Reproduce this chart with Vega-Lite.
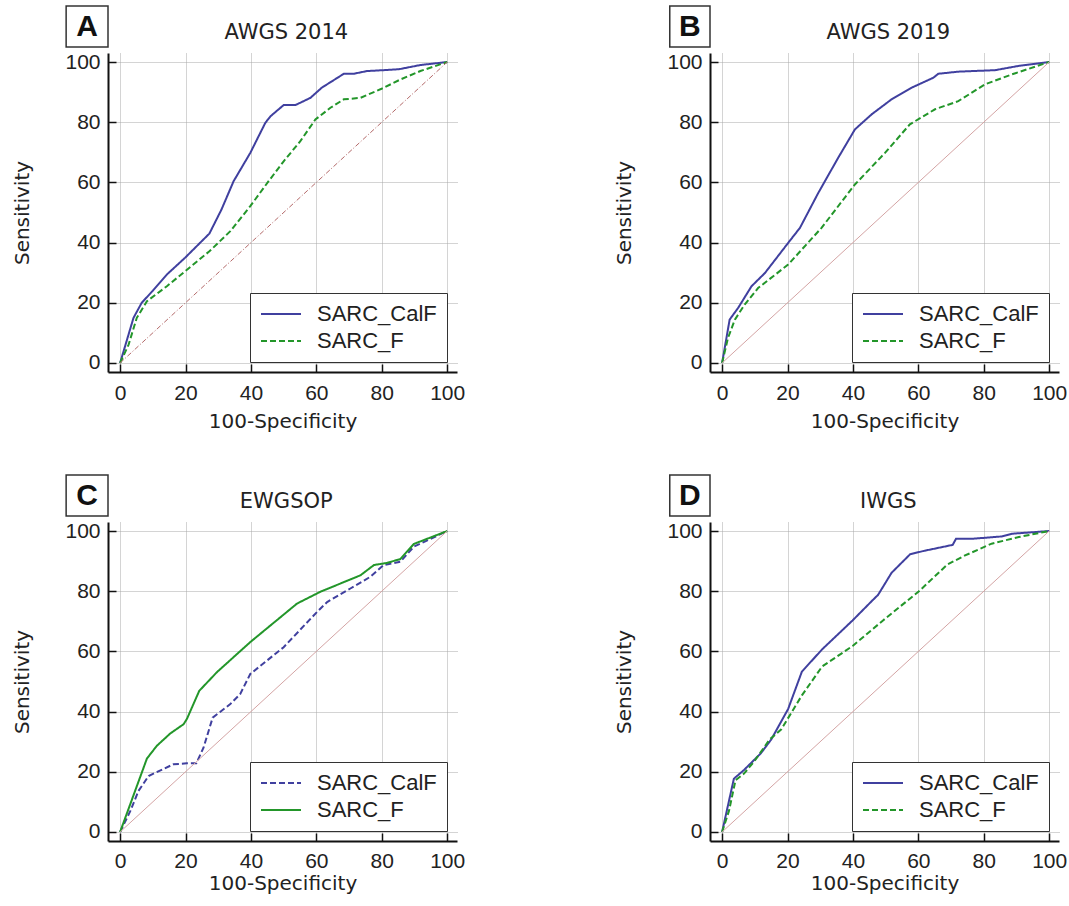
{
"$schema": "https://vega.github.io/schema/vega-lite/v6.json",
"padding": {"left": 12, "top": 5, "right": 3, "bottom": 2},
"datasets": {"roc": [
{"p":"A","s":"SARC_CalF","x":0,"y":0},{"p":"A","s":"SARC_CalF","x":4.1,"y":15},{"p":"A","s":"SARC_CalF","x":6.6,"y":20},{"p":"A","s":"SARC_CalF","x":10,"y":24},{"p":"A","s":"SARC_CalF","x":14.3,"y":29.4},{"p":"A","s":"SARC_CalF","x":19.9,"y":35},{"p":"A","s":"SARC_CalF","x":27.3,"y":43},{"p":"A","s":"SARC_CalF","x":31,"y":51},{"p":"A","s":"SARC_CalF","x":34.7,"y":60.4},{"p":"A","s":"SARC_CalF","x":39.8,"y":69.8},{"p":"A","s":"SARC_CalF","x":44.4,"y":79.8},{"p":"A","s":"SARC_CalF","x":46,"y":82},{"p":"A","s":"SARC_CalF","x":50,"y":85.7},{"p":"A","s":"SARC_CalF","x":53.6,"y":85.7},{"p":"A","s":"SARC_CalF","x":58.2,"y":88.1},{"p":"A","s":"SARC_CalF","x":61.7,"y":91.5},{"p":"A","s":"SARC_CalF","x":68.4,"y":96.1},{"p":"A","s":"SARC_CalF","x":71.4,"y":96.1},{"p":"A","s":"SARC_CalF","x":75.5,"y":97},{"p":"A","s":"SARC_CalF","x":80.6,"y":97.3},{"p":"A","s":"SARC_CalF","x":85.2,"y":97.6},{"p":"A","s":"SARC_CalF","x":91.8,"y":99},{"p":"A","s":"SARC_CalF","x":100,"y":100},
{"p":"A","s":"SARC_F","x":0,"y":0},{"p":"A","s":"SARC_F","x":2.6,"y":6.1},{"p":"A","s":"SARC_F","x":5.1,"y":15},{"p":"A","s":"SARC_F","x":8.2,"y":20.5},{"p":"A","s":"SARC_F","x":14.3,"y":25.5},{"p":"A","s":"SARC_F","x":19.9,"y":30.5},{"p":"A","s":"SARC_F","x":27.3,"y":37.1},{"p":"A","s":"SARC_F","x":33.7,"y":43.8},{"p":"A","s":"SARC_F","x":39.8,"y":52.1},{"p":"A","s":"SARC_F","x":45.4,"y":60.4},{"p":"A","s":"SARC_F","x":50,"y":67},{"p":"A","s":"SARC_F","x":55.1,"y":73.7},{"p":"A","s":"SARC_F","x":59.7,"y":80.9},{"p":"A","s":"SARC_F","x":64.3,"y":84.8},{"p":"A","s":"SARC_F","x":68.4,"y":87.6},{"p":"A","s":"SARC_F","x":73.5,"y":88.1},{"p":"A","s":"SARC_F","x":80.1,"y":91.2},{"p":"A","s":"SARC_F","x":85.7,"y":94.2},{"p":"A","s":"SARC_F","x":91.8,"y":97},{"p":"A","s":"SARC_F","x":100,"y":100},
{"p":"B","s":"SARC_CalF","x":0,"y":0},{"p":"B","s":"SARC_CalF","x":2.3,"y":14.4},{"p":"B","s":"SARC_CalF","x":4.9,"y":18.3},{"p":"B","s":"SARC_CalF","x":9,"y":25.5},{"p":"B","s":"SARC_CalF","x":13.1,"y":29.9},{"p":"B","s":"SARC_CalF","x":20.2,"y":39.9},{"p":"B","s":"SARC_CalF","x":23.8,"y":44.9},{"p":"B","s":"SARC_CalF","x":29.4,"y":56.5},{"p":"B","s":"SARC_CalF","x":35.5,"y":68.2},{"p":"B","s":"SARC_CalF","x":40.6,"y":77.6},{"p":"B","s":"SARC_CalF","x":45.7,"y":82.6},{"p":"B","s":"SARC_CalF","x":51.8,"y":87.6},{"p":"B","s":"SARC_CalF","x":58,"y":91.5},{"p":"B","s":"SARC_CalF","x":64.6,"y":94.8},{"p":"B","s":"SARC_CalF","x":66.1,"y":96.1},{"p":"B","s":"SARC_CalF","x":72.2,"y":96.8},{"p":"B","s":"SARC_CalF","x":83.5,"y":97.3},{"p":"B","s":"SARC_CalF","x":90.6,"y":98.7},{"p":"B","s":"SARC_CalF","x":100,"y":100},
{"p":"B","s":"SARC_F","x":0,"y":0},{"p":"B","s":"SARC_F","x":1.8,"y":8.3},{"p":"B","s":"SARC_F","x":3.9,"y":14.4},{"p":"B","s":"SARC_F","x":6.9,"y":19.4},{"p":"B","s":"SARC_F","x":11,"y":24.9},{"p":"B","s":"SARC_F","x":20.2,"y":32.7},{"p":"B","s":"SARC_F","x":30.4,"y":44.9},{"p":"B","s":"SARC_F","x":40.6,"y":59.3},{"p":"B","s":"SARC_F","x":49.8,"y":69.8},{"p":"B","s":"SARC_F","x":57.4,"y":79.3},{"p":"B","s":"SARC_F","x":65.1,"y":84.3},{"p":"B","s":"SARC_F","x":72.2,"y":87},{"p":"B","s":"SARC_F","x":80.4,"y":92.6},{"p":"B","s":"SARC_F","x":88.6,"y":95.9},{"p":"B","s":"SARC_F","x":100,"y":100},
{"p":"C","s":"SARC_CalF","x":0,"y":0},{"p":"C","s":"SARC_CalF","x":3.1,"y":6.9},{"p":"C","s":"SARC_CalF","x":5.6,"y":13.6},{"p":"C","s":"SARC_CalF","x":8.7,"y":18.6},{"p":"C","s":"SARC_CalF","x":16.3,"y":22.5},{"p":"C","s":"SARC_CalF","x":20.4,"y":22.8},{"p":"C","s":"SARC_CalF","x":23.3,"y":22.8},{"p":"C","s":"SARC_CalF","x":25.5,"y":28},{"p":"C","s":"SARC_CalF","x":28.3,"y":38},{"p":"C","s":"SARC_CalF","x":33.7,"y":42.5},{"p":"C","s":"SARC_CalF","x":36.7,"y":45.8},{"p":"C","s":"SARC_CalF","x":39.8,"y":52.5},{"p":"C","s":"SARC_CalF","x":50,"y":61.4},{"p":"C","s":"SARC_CalF","x":60.2,"y":73.1},{"p":"C","s":"SARC_CalF","x":63.3,"y":76.4},{"p":"C","s":"SARC_CalF","x":70.4,"y":80.9},{"p":"C","s":"SARC_CalF","x":76.5,"y":84.8},{"p":"C","s":"SARC_CalF","x":80.6,"y":88.7},{"p":"C","s":"SARC_CalF","x":85.7,"y":89.8},{"p":"C","s":"SARC_CalF","x":89.8,"y":94.8},{"p":"C","s":"SARC_CalF","x":100,"y":100},
{"p":"C","s":"SARC_F","x":0,"y":0},{"p":"C","s":"SARC_F","x":8.2,"y":24.4},{"p":"C","s":"SARC_F","x":11.2,"y":28.6},{"p":"C","s":"SARC_F","x":15.3,"y":32.7},{"p":"C","s":"SARC_F","x":19.4,"y":35.8},{"p":"C","s":"SARC_F","x":20.4,"y":37.5},{"p":"C","s":"SARC_F","x":24.2,"y":46.9},{"p":"C","s":"SARC_F","x":29.6,"y":53.1},{"p":"C","s":"SARC_F","x":39.8,"y":63.1},{"p":"C","s":"SARC_F","x":54.1,"y":75.9},{"p":"C","s":"SARC_F","x":61.2,"y":79.8},{"p":"C","s":"SARC_F","x":73.5,"y":85.3},{"p":"C","s":"SARC_F","x":77.6,"y":88.7},{"p":"C","s":"SARC_F","x":81.6,"y":89.4},{"p":"C","s":"SARC_F","x":85.7,"y":90.7},{"p":"C","s":"SARC_F","x":89.8,"y":95.7},{"p":"C","s":"SARC_F","x":100,"y":100},
{"p":"D","s":"SARC_CalF","x":0,"y":0},{"p":"D","s":"SARC_CalF","x":3.6,"y":17.7},{"p":"D","s":"SARC_CalF","x":6.7,"y":20.6},{"p":"D","s":"SARC_CalF","x":11.9,"y":26.2},{"p":"D","s":"SARC_CalF","x":15,"y":30.7},{"p":"D","s":"SARC_CalF","x":20.2,"y":40.9},{"p":"D","s":"SARC_CalF","x":24.4,"y":53.3},{"p":"D","s":"SARC_CalF","x":30.6,"y":60.7},{"p":"D","s":"SARC_CalF","x":39.9,"y":70.3},{"p":"D","s":"SARC_CalF","x":46.1,"y":77.1},{"p":"D","s":"SARC_CalF","x":47.7,"y":78.8},{"p":"D","s":"SARC_CalF","x":51.8,"y":86.1},{"p":"D","s":"SARC_CalF","x":57.5,"y":92.3},{"p":"D","s":"SARC_CalF","x":61.7,"y":93.4},{"p":"D","s":"SARC_CalF","x":70.5,"y":95.4},{"p":"D","s":"SARC_CalF","x":71.5,"y":97.4},{"p":"D","s":"SARC_CalF","x":76.2,"y":97.4},{"p":"D","s":"SARC_CalF","x":85.5,"y":98.2},{"p":"D","s":"SARC_CalF","x":88.6,"y":99.1},{"p":"D","s":"SARC_CalF","x":100,"y":100},
{"p":"D","s":"SARC_F","x":0,"y":0},{"p":"D","s":"SARC_F","x":2.1,"y":7},{"p":"D","s":"SARC_F","x":4.1,"y":17.2},{"p":"D","s":"SARC_F","x":6.7,"y":19.4},{"p":"D","s":"SARC_F","x":9.8,"y":23.4},{"p":"D","s":"SARC_F","x":14.5,"y":30.7},{"p":"D","s":"SARC_F","x":18.1,"y":34.1},{"p":"D","s":"SARC_F","x":24.4,"y":45.4},{"p":"D","s":"SARC_F","x":30.6,"y":55},{"p":"D","s":"SARC_F","x":39.9,"y":61.8},{"p":"D","s":"SARC_F","x":49.2,"y":70.3},{"p":"D","s":"SARC_F","x":60.1,"y":79.9},{"p":"D","s":"SARC_F","x":68.9,"y":88.9},{"p":"D","s":"SARC_F","x":74.1,"y":91.8},{"p":"D","s":"SARC_F","x":82.4,"y":95.8},{"p":"D","s":"SARC_F","x":90.7,"y":98},{"p":"D","s":"SARC_F","x":100,"y":100}
]},
"columns": 2,
"spacing": {"row": 43, "column": 149},
"resolve": {"scale": {"color": "independent", "strokeDash": "independent"}, "legend": {"color": "independent", "strokeDash": "independent"}},
"concat": [
{"width": 349, "height": 319,
 "layer": [
  {"data": {"name": "roc"}, "transform": [{"filter": "datum.p === 'A'"}], "mark": {"type": "line", "strokeWidth": 2},
   "encoding": {
    "x": {"field": "x", "type": "quantitative", "scale": {"domain": [-3.7, 103]}, "axis": {"title": "100-Specificity", "grid": true, "values": [0,5,10,15,20,25,30,35,40,45,50,55,60,65,70,75,80,85,90,95,100], "labelExpr": "datum.value % 20 === 0 ? datum.label : ''", "tickSize": {"condition": {"test": "datum.value % 20 === 0", "value": -8}, "value": -4}, "gridOpacity": {"condition": {"test": "datum.value % 20 === 0", "value": 1}, "value": 0}, "labelPadding": 18, "titlePadding": 8}},
    "y": {"field": "y", "type": "quantitative", "scale": {"domain": [-3, 103]}, "axis": {"title": "Sensitivity", "grid": true, "values": [0,5,10,15,20,25,30,35,40,45,50,55,60,65,70,75,80,85,90,95,100], "labelExpr": "datum.value % 20 === 0 ? datum.label : ''", "tickSize": {"condition": {"test": "datum.value % 20 === 0", "value": -8}, "value": -4}, "gridOpacity": {"condition": {"test": "datum.value % 20 === 0", "value": 1}, "value": 0}, "labelPadding": 16, "titlePadding": 32}},
    "color": {"field": "s", "type": "nominal", "scale": {"domain": ["SARC_CalF", "SARC_F"], "range": ["#40409f", "#23962a"]}, "legend": {"title": null}},
    "strokeDash": {"field": "s", "type": "nominal", "scale": {"domain": ["SARC_CalF", "SARC_F"], "range": [[1, 0], [6, 3]]}, "legend": {"title": null}}
   }},
  {"data": {"values": [{}]}, "mark": {"type": "rule", "color": "#b46a6a", "strokeWidth": 1, "strokeDash": [5, 2, 1, 2]},
   "encoding": {"x": {"datum": 0, "type": "quantitative", "scale": {"domain": [-3.7, 103]}}, "y": {"datum": 0, "type": "quantitative", "scale": {"domain": [-3, 103]}}, "x2": {"datum": 100}, "y2": {"datum": 100}}},
  {"data": {"values": [{}]}, "mark": {"type": "rect", "fill": "white", "stroke": "#333", "strokeWidth": 1.5},
   "encoding": {"x": {"datum": -16.5, "type": "quantitative", "scale": {"domain": [-3.7, 103]}}, "x2": {"datum": -3.7}, "y": {"datum": 105, "type": "quantitative", "scale": {"domain": [-3, 103]}}, "y2": {"datum": 118.6}}},
  {"data": {"values": [{}]}, "mark": {"type": "text", "text": "A", "fontSize": 30, "fontWeight": "bold", "font": "Liberation Sans", "color": "#111", "baseline": "middle", "align": "center"},
   "encoding": {"x": {"datum": -10.1, "type": "quantitative", "scale": {"domain": [-3.7, 103]}}, "y": {"datum": 111.8, "type": "quantitative", "scale": {"domain": [-3, 103]}}}},
  {"data": {"values": [{}]}, "mark": {"type": "text", "text": "AWGS 2014", "fontSize": 21, "font": "DejaVu Sans", "color": "#222", "baseline": "middle", "align": "center"},
   "encoding": {"x": {"datum": 50.8, "type": "quantitative", "scale": {"domain": [-3.7, 103]}}, "y": {"datum": 109.6, "type": "quantitative", "scale": {"domain": [-3, 103]}}}}
 ]},
{"width": 349, "height": 319,
 "layer": [
  {"data": {"name": "roc"}, "transform": [{"filter": "datum.p === 'B'"}], "mark": {"type": "line", "strokeWidth": 2},
   "encoding": {
    "x": {"field": "x", "type": "quantitative", "scale": {"domain": [-3.7, 103]}, "axis": {"title": "100-Specificity", "grid": true, "values": [0,5,10,15,20,25,30,35,40,45,50,55,60,65,70,75,80,85,90,95,100], "labelExpr": "datum.value % 20 === 0 ? datum.label : ''", "tickSize": {"condition": {"test": "datum.value % 20 === 0", "value": -8}, "value": -4}, "gridOpacity": {"condition": {"test": "datum.value % 20 === 0", "value": 1}, "value": 0}, "labelPadding": 18, "titlePadding": 8}},
    "y": {"field": "y", "type": "quantitative", "scale": {"domain": [-3, 103]}, "axis": {"title": "Sensitivity", "grid": true, "values": [0,5,10,15,20,25,30,35,40,45,50,55,60,65,70,75,80,85,90,95,100], "labelExpr": "datum.value % 20 === 0 ? datum.label : ''", "tickSize": {"condition": {"test": "datum.value % 20 === 0", "value": -8}, "value": -4}, "gridOpacity": {"condition": {"test": "datum.value % 20 === 0", "value": 1}, "value": 0}, "labelPadding": 16, "titlePadding": 32}},
    "color": {"field": "s", "type": "nominal", "scale": {"domain": ["SARC_CalF", "SARC_F"], "range": ["#40409f", "#23962a"]}, "legend": {"title": null}},
    "strokeDash": {"field": "s", "type": "nominal", "scale": {"domain": ["SARC_CalF", "SARC_F"], "range": [[1, 0], [6, 3]]}, "legend": {"title": null}}
   }},
  {"data": {"values": [{}]}, "mark": {"type": "rule", "color": "#d4a4a4", "strokeWidth": 1},
   "encoding": {"x": {"datum": 0, "type": "quantitative", "scale": {"domain": [-3.7, 103]}}, "y": {"datum": 0, "type": "quantitative", "scale": {"domain": [-3, 103]}}, "x2": {"datum": 100}, "y2": {"datum": 100}}},
  {"data": {"values": [{}]}, "mark": {"type": "rect", "fill": "white", "stroke": "#333", "strokeWidth": 1.5},
   "encoding": {"x": {"datum": -16.0, "type": "quantitative", "scale": {"domain": [-3.7, 103]}}, "x2": {"datum": -3.7}, "y": {"datum": 105, "type": "quantitative", "scale": {"domain": [-3, 103]}}, "y2": {"datum": 118.6}}},
  {"data": {"values": [{}]}, "mark": {"type": "text", "text": "B", "fontSize": 30, "fontWeight": "bold", "font": "Liberation Sans", "color": "#111", "baseline": "middle", "align": "center"},
   "encoding": {"x": {"datum": -9.85, "type": "quantitative", "scale": {"domain": [-3.7, 103]}}, "y": {"datum": 111.8, "type": "quantitative", "scale": {"domain": [-3, 103]}}}},
  {"data": {"values": [{}]}, "mark": {"type": "text", "text": "AWGS 2019", "fontSize": 21, "font": "DejaVu Sans", "color": "#222", "baseline": "middle", "align": "center"},
   "encoding": {"x": {"datum": 50.8, "type": "quantitative", "scale": {"domain": [-3.7, 103]}}, "y": {"datum": 109.6, "type": "quantitative", "scale": {"domain": [-3, 103]}}}}
 ]},
{"width": 349, "height": 319,
 "layer": [
  {"data": {"name": "roc"}, "transform": [{"filter": "datum.p === 'C'"}], "mark": {"type": "line", "strokeWidth": 2},
   "encoding": {
    "x": {"field": "x", "type": "quantitative", "scale": {"domain": [-3.7, 103]}, "axis": {"title": "100-Specificity", "grid": true, "values": [0,5,10,15,20,25,30,35,40,45,50,55,60,65,70,75,80,85,90,95,100], "labelExpr": "datum.value % 20 === 0 ? datum.label : ''", "tickSize": {"condition": {"test": "datum.value % 20 === 0", "value": -8}, "value": -4}, "gridOpacity": {"condition": {"test": "datum.value % 20 === 0", "value": 1}, "value": 0}, "labelPadding": 17, "titlePadding": 2}},
    "y": {"field": "y", "type": "quantitative", "scale": {"domain": [-3, 103]}, "axis": {"title": "Sensitivity", "grid": true, "values": [0,5,10,15,20,25,30,35,40,45,50,55,60,65,70,75,80,85,90,95,100], "labelExpr": "datum.value % 20 === 0 ? datum.label : ''", "tickSize": {"condition": {"test": "datum.value % 20 === 0", "value": -8}, "value": -4}, "gridOpacity": {"condition": {"test": "datum.value % 20 === 0", "value": 1}, "value": 0}, "labelPadding": 16, "titlePadding": 32}},
    "color": {"field": "s", "type": "nominal", "scale": {"domain": ["SARC_CalF", "SARC_F"], "range": ["#40409f", "#23962a"]}, "legend": {"title": null}},
    "strokeDash": {"field": "s", "type": "nominal", "scale": {"domain": ["SARC_CalF", "SARC_F"], "range": [[6, 3], [1, 0]]}, "legend": {"title": null}}
   }},
  {"data": {"values": [{}]}, "mark": {"type": "rule", "color": "#d4a4a4", "strokeWidth": 1},
   "encoding": {"x": {"datum": 0, "type": "quantitative", "scale": {"domain": [-3.7, 103]}}, "y": {"datum": 0, "type": "quantitative", "scale": {"domain": [-3, 103]}}, "x2": {"datum": 100}, "y2": {"datum": 100}}},
  {"data": {"values": [{}]}, "mark": {"type": "rect", "fill": "white", "stroke": "#333", "strokeWidth": 1.5},
   "encoding": {"x": {"datum": -16.5, "type": "quantitative", "scale": {"domain": [-3.7, 103]}}, "x2": {"datum": -3.7}, "y": {"datum": 105, "type": "quantitative", "scale": {"domain": [-3, 103]}}, "y2": {"datum": 118.6}}},
  {"data": {"values": [{}]}, "mark": {"type": "text", "text": "C", "fontSize": 30, "fontWeight": "bold", "font": "Liberation Sans", "color": "#111", "baseline": "middle", "align": "center"},
   "encoding": {"x": {"datum": -10.1, "type": "quantitative", "scale": {"domain": [-3.7, 103]}}, "y": {"datum": 111.8, "type": "quantitative", "scale": {"domain": [-3, 103]}}}},
  {"data": {"values": [{}]}, "mark": {"type": "text", "text": "EWGSOP", "fontSize": 21, "font": "DejaVu Sans", "color": "#222", "baseline": "middle", "align": "center"},
   "encoding": {"x": {"datum": 50.8, "type": "quantitative", "scale": {"domain": [-3.7, 103]}}, "y": {"datum": 109.6, "type": "quantitative", "scale": {"domain": [-3, 103]}}}}
 ]},
{"width": 349, "height": 319,
 "layer": [
  {"data": {"name": "roc"}, "transform": [{"filter": "datum.p === 'D'"}], "mark": {"type": "line", "strokeWidth": 2},
   "encoding": {
    "x": {"field": "x", "type": "quantitative", "scale": {"domain": [-3.7, 103]}, "axis": {"title": "100-Specificity", "grid": true, "values": [0,5,10,15,20,25,30,35,40,45,50,55,60,65,70,75,80,85,90,95,100], "labelExpr": "datum.value % 20 === 0 ? datum.label : ''", "tickSize": {"condition": {"test": "datum.value % 20 === 0", "value": -8}, "value": -4}, "gridOpacity": {"condition": {"test": "datum.value % 20 === 0", "value": 1}, "value": 0}, "labelPadding": 17, "titlePadding": 2}},
    "y": {"field": "y", "type": "quantitative", "scale": {"domain": [-3, 103]}, "axis": {"title": "Sensitivity", "grid": true, "values": [0,5,10,15,20,25,30,35,40,45,50,55,60,65,70,75,80,85,90,95,100], "labelExpr": "datum.value % 20 === 0 ? datum.label : ''", "tickSize": {"condition": {"test": "datum.value % 20 === 0", "value": -8}, "value": -4}, "gridOpacity": {"condition": {"test": "datum.value % 20 === 0", "value": 1}, "value": 0}, "labelPadding": 16, "titlePadding": 32}},
    "color": {"field": "s", "type": "nominal", "scale": {"domain": ["SARC_CalF", "SARC_F"], "range": ["#40409f", "#23962a"]}, "legend": {"title": null}},
    "strokeDash": {"field": "s", "type": "nominal", "scale": {"domain": ["SARC_CalF", "SARC_F"], "range": [[1, 0], [6, 3]]}, "legend": {"title": null}}
   }},
  {"data": {"values": [{}]}, "mark": {"type": "rule", "color": "#d4a4a4", "strokeWidth": 1},
   "encoding": {"x": {"datum": 0, "type": "quantitative", "scale": {"domain": [-3.7, 103]}}, "y": {"datum": 0, "type": "quantitative", "scale": {"domain": [-3, 103]}}, "x2": {"datum": 100}, "y2": {"datum": 100}}},
  {"data": {"values": [{}]}, "mark": {"type": "rect", "fill": "white", "stroke": "#333", "strokeWidth": 1.5},
   "encoding": {"x": {"datum": -16.0, "type": "quantitative", "scale": {"domain": [-3.7, 103]}}, "x2": {"datum": -3.7}, "y": {"datum": 105, "type": "quantitative", "scale": {"domain": [-3, 103]}}, "y2": {"datum": 118.6}}},
  {"data": {"values": [{}]}, "mark": {"type": "text", "text": "D", "fontSize": 30, "fontWeight": "bold", "font": "Liberation Sans", "color": "#111", "baseline": "middle", "align": "center"},
   "encoding": {"x": {"datum": -9.85, "type": "quantitative", "scale": {"domain": [-3.7, 103]}}, "y": {"datum": 111.8, "type": "quantitative", "scale": {"domain": [-3, 103]}}}},
  {"data": {"values": [{}]}, "mark": {"type": "text", "text": "IWGS", "fontSize": 21, "font": "DejaVu Sans", "color": "#222", "baseline": "middle", "align": "center"},
   "encoding": {"x": {"datum": 50.8, "type": "quantitative", "scale": {"domain": [-3.7, 103]}}, "y": {"datum": 109.6, "type": "quantitative", "scale": {"domain": [-3, 103]}}}}
 ]}
],
"config": {
 "view": {"stroke": null},
 "axis": {"labelFont": "Liberation Sans", "labelFontSize": 21, "labelColor": "#222", "titleFont": "DejaVu Sans", "titleFontSize": 20, "titleFontWeight": "normal", "titleColor": "#222", "domainColor": "#111", "domainWidth": 2, "tickColor": "#111", "tickWidth": 1.5, "grid": true, "gridColor": "#a8a8a8", "gridDash": [1, 1], "gridWidth": 1, "labelOverlap": false, "labelFlush": false},
 "legend": {"orient": "bottom-right", "offset": 10, "symbolType": "M-1,0H3", "symbolSize": 400, "symbolStrokeWidth": 2, "labelFont": "Liberation Sans", "labelFontSize": 22, "labelColor": "#222", "labelOffset": 35, "padding": 10, "rowPadding": 5, "strokeColor": "#333", "fillColor": "white"}
}
}
